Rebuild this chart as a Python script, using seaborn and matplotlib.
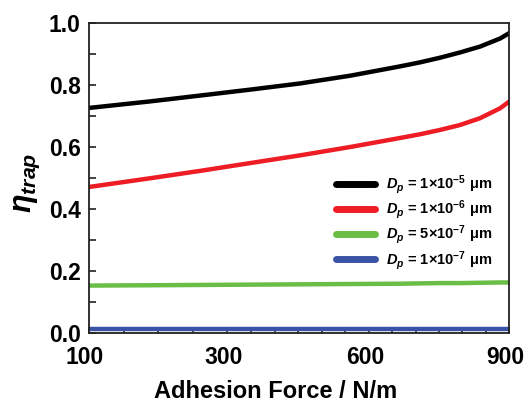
import numpy as np
import pandas as pd
import matplotlib
matplotlib.use("Agg")
import matplotlib.pyplot as plt
import matplotlib.transforms as mtransforms
import seaborn as sns

# ---- data ----
force = [100, 188, 261, 348, 454, 560, 666, 709, 752, 795, 838, 881, 900]
eta_1e5 = [0.726, 0.747, 0.766, 0.785, 0.805, 0.830, 0.860, 0.873, 0.888, 0.905, 0.924, 0.950, 0.967]
eta_1e6 = [0.471, 0.499, 0.523, 0.548, 0.573, 0.600, 0.629, 0.641, 0.655, 0.671, 0.693, 0.725, 0.746]
eta_5e7 = [0.153, 0.154, 0.155, 0.156, 0.157, 0.158, 0.159, 0.160, 0.161, 0.161, 0.162, 0.163, 0.163]
eta_1e7 = [0.012] * 13
series_labels = [r"$D_p$ = 1×10$^{-5}$ μm", r"$D_p$ = 1×10$^{-6}$ μm",
                 r"$D_p$ = 5×10$^{-7}$ μm", r"$D_p$ = 1×10$^{-7}$ μm"]
colors = ["#000000", "#ee1c25", "#6abd45", "#3a53a4"]
xticks = [100, 300, 600, 900]
xtick_frac = [0.0, 0.329, 0.667, 1.0]
yticks = [0.0, 0.2, 0.4, 0.6, 0.8, 1.0]

rows = []
for lab, vals in zip(series_labels, [eta_1e5, eta_1e6, eta_5e7, eta_1e7]):
    for f, v in zip(force, vals):
        rows.append({"force": f, "eta": v, "series": lab})
df = pd.DataFrame(rows)

sns.set_theme(style="ticks")
plt.rcParams["font.family"] = ["Liberation Sans", "DejaVu Sans"]
plt.rcParams["font.weight"] = "bold"
plt.rcParams["text.color"] = "black"
plt.rcParams["axes.labelcolor"] = "black"
plt.rcParams["mathtext.fontset"] = "custom"
plt.rcParams["mathtext.rm"] = "Liberation Sans:bold"
plt.rcParams["mathtext.it"] = "Liberation Sans:italic:bold"
plt.rcParams["mathtext.bf"] = "Liberation Sans:bold"

fig = plt.figure(figsize=(5.25, 4.04), dpi=100)
ax = fig.add_axes([89 / 525, 1 - 333 / 404, 420 / 525, 310 / 404])


def forward(x):
    x = np.asarray(x, dtype=float)
    return np.interp(x, xticks, xtick_frac)


def inverse(y):
    y = np.asarray(y, dtype=float)
    return np.interp(y, xtick_frac, xticks)


ax.set_xscale("function", functions=(forward, inverse))

sns.lineplot(data=df, x="force", y="eta", hue="series", palette=colors,
             linewidth=3.2, ax=ax, legend=True)

ax.set_xlim(100, 900)
ax.set_ylim(0, 1.0)
ax.set_xticks(xticks)
ax.set_xticklabels([str(t) for t in xticks])
minor_x = [150, 200, 250, 350, 400, 450, 500, 550, 650, 700, 750, 800, 850]
ax.set_xticks(minor_x, minor=True)
ax.set_yticks(yticks)
ax.set_yticklabels([f"{t:.1f}" for t in yticks])
ax.set_yticks([0.1, 0.3, 0.5, 0.7, 0.9], minor=True)

ax.tick_params(axis="both", which="both", direction="in", colors="#222222",
               labelcolor="black", width=1.2)
ax.tick_params(axis="y", which="both", length=5, pad=6, labelsize=16.5)
ax.tick_params(axis="x", which="major", length=4, pad=9, labelsize=16.5)
ax.tick_params(axis="x", which="minor", length=3.5)
shift = mtransforms.ScaledTranslation(-4 / 100, 0, fig.dpi_scale_trans)
for lab in ax.get_xticklabels():
    lab.set_fontweight("bold")
    lab.set_transform(lab.get_transform() + shift)
for lab in ax.get_yticklabels():
    lab.set_fontweight("bold")

for s in ax.spines.values():
    s.set_visible(True)
    s.set_color("#222222")
    s.set_linewidth(1.3)

ax.set_xlabel("Adhesion Force / N/m", fontsize=17, fontweight="bold", color="black")
ax.xaxis.set_label_coords(0.445, -0.152)
ax.set_ylabel(r"$\eta_{trap}$", fontsize=22, color="black")
ax.yaxis.set_label_coords(-0.112, 0.484)

handles, labels = ax.get_legend_handles_labels()
for h in handles:
    h.set_linewidth(5)
leg = ax.legend(handles, labels, loc="upper left", bbox_to_anchor=(0.588, 0.515),
                frameon=False, fontsize=10.5, handlelength=2.7, handletextpad=0.7,
                labelspacing=0.15, borderpad=0, borderaxespad=0)
for t in leg.get_texts():
    t.set_fontweight("bold")
    t.set_color("black")

fig.savefig("out.png", dpi=100, facecolor="white")
